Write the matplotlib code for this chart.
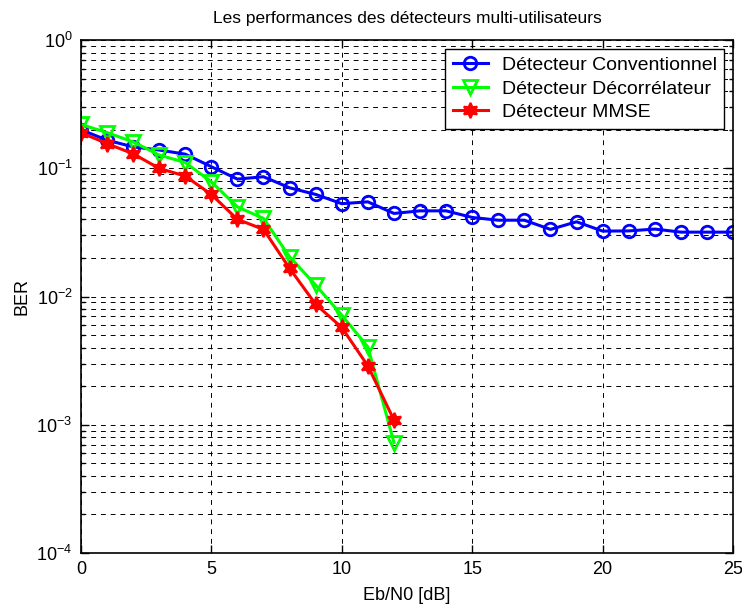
import numpy as np
import matplotlib
matplotlib.use("Agg")
import matplotlib.pyplot as plt
from matplotlib.ticker import LogLocator, NullFormatter

plt.rcParams['font.family'] = ['Liberation Sans', 'DejaVu Sans']

# Eb/N0 in dB
snr_conv = list(range(0, 26))
snr_dec = list(range(0, 13))

ber_conv = [0.200, 0.166, 0.147, 0.139, 0.129, 0.103, 0.0824, 0.086, 0.0705,
            0.0626, 0.053, 0.0548, 0.0445, 0.0466, 0.0466, 0.0414, 0.0394,
            0.0394, 0.0334, 0.0383, 0.0324, 0.0325, 0.0336, 0.0318, 0.0318,
            0.0318]
ber_decorr = [0.22, 0.19, 0.161, 0.127, 0.111, 0.0785, 0.050, 0.0407, 0.0204,
              0.0123, 0.00716, 0.00405, 0.000727]
ber_mmse = [0.19, 0.156, 0.13, 0.10, 0.087, 0.0626, 0.040, 0.0334, 0.0166,
            0.0087, 0.00574, 0.00288, 0.00109]

fig = plt.figure(figsize=(7.42, 6.08), dpi=100)
ax = fig.add_axes([0.109, 0.0905, 0.879, 0.8435])

ax.semilogy(snr_conv, ber_conv, '-o', color='#0000ff', lw=2.2, ms=9,
            mfc='none', mew=2, label='Détecteur Conventionnel')
ax.semilogy(snr_dec, ber_decorr, '-v', color='#00ff00', lw=2.2, ms=10,
            mfc='none', mew=2, label='Détecteur Décorrélateur')
ax.semilogy(snr_dec, ber_mmse, '-', marker=(6, 1, 0), color='#ff0000', lw=2.2,
            ms=11, mew=1.5, label='Détecteur MMSE')

ax.set_xlim(0, 25)
ax.set_ylim(1e-4, 1)
ax.set_xticks([0, 5, 10, 15, 20, 25])
ax.yaxis.set_major_locator(LogLocator(base=10, numticks=10))
ax.yaxis.set_minor_locator(LogLocator(base=10, subs=np.arange(2, 10), numticks=10))
ax.yaxis.set_minor_formatter(NullFormatter())

ax.grid(True, which='major', axis='both', color='black', ls=(0, (5, 5)), lw=0.7)
ax.grid(True, which='minor', axis='y', color='black', ls=(0, (5, 5)), lw=0.7)

ax.tick_params(which='both', direction='in', top=True, right=True,
               labelsize=13, width=1)
ax.tick_params(which='major', length=6, pad=6)
ax.tick_params(which='minor', length=3)
for s in ax.spines.values():
    s.set_linewidth(1.2)

ax.set_title('Les performances des détecteurs multi-utilisateurs', fontsize=12.5, pad=12)
ax.set_xlabel('Eb/N0 [dB]', fontsize=13, labelpad=6)
ax.set_ylabel('BER', fontsize=13, labelpad=4)

leg = ax.legend(loc='upper right', fontsize=14, fancybox=False, framealpha=1,
                edgecolor='black', borderaxespad=0.45, handlelength=1.8,
                handletextpad=0.7, labelspacing=0.3, borderpad=0.4)
leg.get_frame().set_linewidth(1)

fig.savefig('out.png', dpi=100)
